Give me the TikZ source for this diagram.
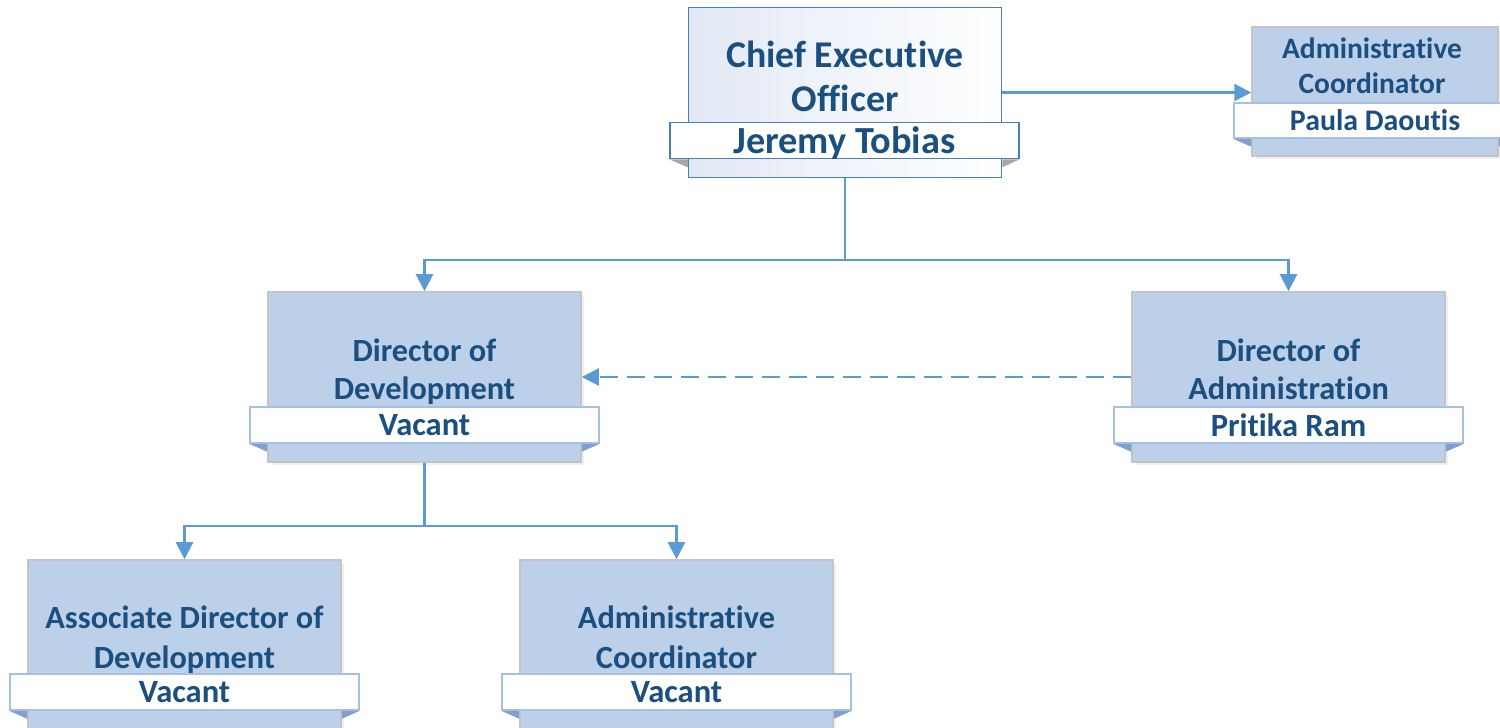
\documentclass[tikz,border=0pt]{standalone}
\usepackage{fontspec}
\setmainfont[Ligatures=NoCommon]{Carlito}
\usetikzlibrary{arrows.meta,calc,positioning,shadows}
\definecolor{orgtext}{RGB}{26,79,128}
\definecolor{orgfill}{RGB}{189,208,233}
\definecolor{orgedge}{RGB}{196,196,196}
\definecolor{orgline}{RGB}{91,155,213}
\definecolor{orgbar}{RGB}{164,192,230}
\definecolor{orgfold}{RGB}{128,158,206}
\definecolor{ceoedge}{RGB}{74,126,187}
\definecolor{ceotint}{RGB}{226,233,246}

\begin{document}
\begin{tikzpicture}[x=0.02cm, y=-0.02cm,
    posbox/.style={draw=orgedge, line width=0.9pt, fill=orgfill, minimum width=6.26cm, minimum height=3.4cm, inner sep=0pt,
      drop shadow={opacity=0.12, shadow xshift=0.07cm, shadow yshift=-0.07cm}},
    ceobox/.style={draw=ceoedge, line width=0.9pt, left color=ceotint, right color=white, minimum width=6.26cm, minimum height=3.4cm, inner sep=0pt},
    title/.style={font=\fontsize{18.4}{21.5}\selectfont\bfseries, text=orgtext, align=center, inner sep=0pt},
    namebar/.style={draw=orgbar, line width=0.9pt, fill=white, minimum width=6.98cm, minimum height=0.72cm, inner sep=0pt, text depth=0pt,
      font=\fontsize{18.5}{21}\selectfont\bfseries, text=orgtext},
    link/.style={draw=orgline, line width=1.3pt, -{Triangle[length=0.34cm,width=0.34cm]}}
  ]
  \useasboundingbox (0,0) rectangle (1500,727);
  \clip (0,0) rectangle (1500,727);

  % boxes
  \node[ceobox] (ceo) at (845,92.5) {};
  \node[posbox, minimum width=4.92cm, minimum height=2.58cm] (asst) at (1375,91.5) {};
  \node[posbox] (dev) at (424.5,377) {};
  \node[posbox] (adm) at (1288.5,377) {};
  \node[posbox] (assoc) at (184.5,645) {};
  \node[posbox] (devco) at (676.5,645) {};

  % titles
  \node[title, font=\fontsize{21.5}{25}\selectfont\bfseries] (ceo-t) at (845,76) {Chief Executive\\Officer};
  \node[title, font=\fontsize{16.8}{19.8}\selectfont\bfseries] (asst-t) at (1372,66) {Administrative\\Coordinator};
  \node[title] (dev-t) at (424.5,372) {Director of\\Development};
  \node[title] (adm-t) at (1288.5,369) {Director of\\Administration};
  \node[title, font=\fontsize{18.4}{22.7}\selectfont\bfseries] (assoc-t) at (184.5,640) {Associate Director of\\Development};
  \node[title, font=\fontsize{18.4}{22.7}\selectfont\bfseries] (devco-t) at (676.5,637) {Administrative\\Coordinator};

  % connectors
  \coordinate (ceo-bus) at ($(ceo.south)+(0,82)$);
  \coordinate (dev-bus) at ($(dev.south)+(0,63)$);
  \draw[link] (ceo.south) -- (ceo-bus) -| (dev.north);
  \draw[link] (ceo-bus) -| (adm.north);
  \draw[link] (ceo.east) -- (ceo.east -| asst.west);
  \draw[link, dash pattern=on 0.36cm off 0.18cm] (adm.west) -- (dev.east);
  \draw[link] (dev.south) -- (dev-bus) -| (assoc.north);
  \draw[link] (dev-bus) -| (devco.north);

  % name bars
  \node[namebar, draw=ceoedge, font=\fontsize{21.8}{24}\selectfont\bfseries] (ceo-n) at (844.5,140.5) {Jeremy Tobias};
  \node[namebar, minimum width=5.64cm, minimum height=0.7cm, font=\fontsize{17}{20}\selectfont\bfseries] (asst-n) at (1375,120.5) {Paula Daoutis};
  \node[namebar] (dev-n) at (424.5,425) {Vacant};
  \node[namebar] (adm-n) at (1288.5,425) {Pritika Ram};
  \node[namebar] (assoc-n) at (184.5,692) {Vacant};
  \node[namebar] (devco-n) at (676.5,692) {Vacant};

  % folded bar ends
  \foreach \b/\n/\c in {ceo/ceo-n/gray!70, asst/asst-n/orgfold, dev/dev-n/orgfold, adm/adm-n/orgfold, assoc/assoc-n/orgfold, devco/devco-n/orgfold} {
    \fill[\c] (\n.south west) -- (\n.south west -| \b.west) -- ++(0,8) -- cycle;
    \fill[\c] (\n.south east) -- (\n.south east -| \b.east) -- ++(0,8) -- cycle;
  }
\end{tikzpicture}
\end{document}
